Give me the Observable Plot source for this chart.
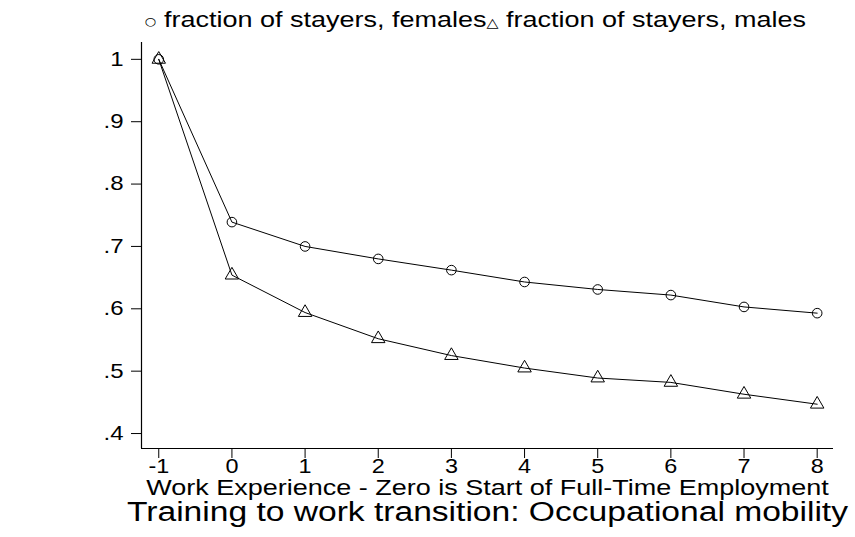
<!DOCTYPE html>
<html>
<head>
<meta charset="utf-8">
<script src="https://cdn.jsdelivr.net/npm/d3@7"></script>
<script src="https://cdn.jsdelivr.net/npm/@observablehq/plot@0.6"></script>
<style>
  body { margin: 0; background: #fff; }
  #chart { width: 855px; height: 537px; }
</style>
</head>
<body>
<div id="chart"></div>
<script>
// ---- data ----
const years = [-1, 0, 1, 2, 3, 4, 5, 6, 7, 8];
const femaleStayers = [1.0, 0.739, 0.700, 0.680, 0.662, 0.643, 0.631, 0.622, 0.603, 0.593];
const maleStayers   = [1.0, 0.654, 0.594, 0.552, 0.525, 0.505, 0.489, 0.482, 0.463, 0.447];
const yTicks = [0.4, 0.5, 0.6, 0.7, 0.8, 0.9, 1.0];
const yTickLabels = [".4", ".5", ".6", ".7", ".8", ".9", "1"];
const xTicks = [-1, 0, 1, 2, 3, 4, 5, 6, 7, 8];
const legendLabels = ["fraction of stayers, females", "fraction of stayers, males"];
const xTitle = "Work Experience - Zero is Start of Full-Time Employment";
const chartTitle = "Training to work transition: Occupational mobility";

const femaleRows = years.map((t, i) => ({t, v: femaleStayers[i]}));
const maleRows = years.map((t, i) => ({t, v: maleStayers[i]}));

const xDomain = [-1.236, 8.223];
const yDomain = [0.376, 1.027];
const FONT = "'Liberation Sans', Arial, Helvetica, sans-serif";

const svg = Plot.plot({
  width: 855,
  height: 537,
  marginLeft: 141,
  marginRight: 22,
  marginTop: 42,
  marginBottom: 89,
  style: {fontFamily: FONT, color: "black", background: "white", overflow: "visible"},
  x: {domain: xDomain},
  y: {domain: yDomain},
  marks: [
    Plot.ruleX([xDomain[0]], {stroke: "black", strokeWidth: 1.2}),
    Plot.ruleY([yDomain[0]], {stroke: "black", strokeWidth: 1.2}),
    Plot.axisY({ticks: yTicks, tickSize: 10, tickPadding: 8, fontSize: 20,
      tickFormat: d => yTickLabels[yTicks.findIndex(v => Math.abs(v - d) < 1e-9)], label: null}),
    Plot.axisX({ticks: xTicks, tickSize: 10, tickPadding: 1, fontSize: 19.5,
      tickFormat: d => String(d), label: null}),
    Plot.line(femaleRows, {x: "t", y: "v", stroke: "black", strokeWidth: 1}),
    Plot.line(maleRows, {x: "t", y: "v", stroke: "black", strokeWidth: 1}),
    Plot.dot(femaleRows, {x: "t", y: "v", r: 4.8, symbol: "circle", stroke: "black", fill: "none", strokeWidth: 1}),
    Plot.dot(maleRows, {x: "t", y: "v", r: 5, symbol: "triangle", stroke: "black", fill: "none", strokeWidth: 1}),
    Plot.text([xTitle], {frameAnchor: "bottom", lineAnchor: "middle", dy: 39, fontSize: 22.5, fill: "black"}),
    Plot.text([chartTitle], {frameAnchor: "bottom", lineAnchor: "middle", dy: 64, fontSize: 28, fill: "black"})
  ]
});

document.getElementById("chart").append(svg);

// legend (symbol + label pairs) at the top
const leg = d3.select(svg).append("text")
  .attr("x", 145).attr("y", 27)
  .attr("text-anchor", "start")
  .attr("fill", "black")
  .style("font-family", FONT)
  .style("font-size", "22.5px");
leg.append("tspan").style("font-size", "11px").style("font-family", "'DejaVu Sans'").attr("dy", -2).text("\u25CB");
leg.append("tspan").attr("dy", 2).text(" " + legendLabels[0]);
leg.append("tspan").style("font-size", "13px").style("font-family", "'DejaVu Sans'").text("\u25B3");
leg.append("tspan").text(" " + legendLabels[1]);

// the reference's lettering is horizontally wide: stretch each text around its anchor
const STRETCH = 1.2;
d3.select(svg).selectAll("text").each(function() {
  const anchor = getComputedStyle(this).textAnchor;
  const b = this.getBBox();
  const ox = anchor === "end" ? b.x + b.width : anchor === "middle" ? b.x + b.width / 2 : b.x;
  const prev = this.getAttribute("transform") || "";
  this.setAttribute("transform", `${prev} translate(${ox},0) scale(${STRETCH},1) translate(${-ox},0)`.trim());
});
</script>
</body>
</html>
